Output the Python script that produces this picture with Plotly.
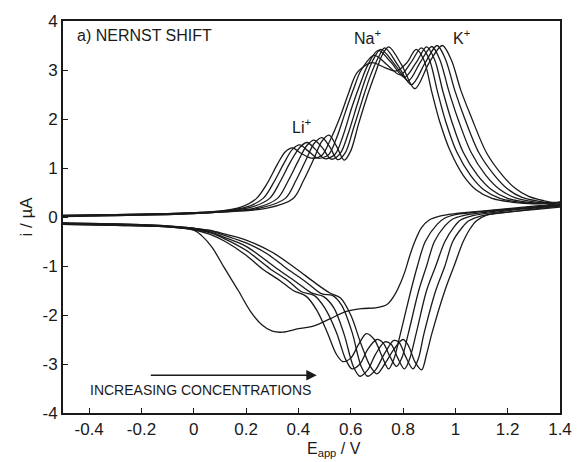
import plotly.graph_objects as go

# ---------------- data ----------------
# forward (anodic, upper) scans, potential in V and current in uA
fwd_v_c0 = [-0.5, -0.3, -0.1, 0.0, 0.1, 0.18, 0.24, 0.28, 0.32, 0.35, 0.377, 0.41, 0.45, 0.49, 0.52, 0.56, 0.59, 0.625, 0.68, 0.73, 0.775, 0.815, 0.85, 0.88, 0.91, 0.94, 0.98, 1.03, 1.08, 1.14, 1.22, 1.3, 1.4]
fwd_i_c0 = [0.04, 0.05, 0.07, 0.09, 0.12, 0.2, 0.38, 0.68, 1.08, 1.33, 1.41, 1.3, 1.2, 1.26, 1.55, 2.05, 2.5, 2.95, 3.15, 3.05, 2.98, 3.15, 3.42, 3.2, 2.55, 1.95, 1.35, 0.85, 0.55, 0.38, 0.3, 0.27, 0.3]
fwd_v_c1 = [-0.5, -0.3, -0.1, 0.0, 0.1, 0.2, 0.265, 0.305, 0.345, 0.377, 0.405, 0.437, 0.475, 0.515, 0.545, 0.58, 0.61, 0.64, 0.69, 0.74, 0.79, 0.83, 0.87, 0.9, 0.932, 0.963, 1.005, 1.058, 1.11, 1.17, 1.25, 1.32, 1.4]
fwd_i_c1 = [0.03, 0.05, 0.07, 0.09, 0.12, 0.2, 0.38, 0.7, 1.1, 1.38, 1.47, 1.35, 1.2, 1.27, 1.6, 2.15, 2.6, 3.0, 3.3, 3.1, 2.9, 3.15, 3.45, 3.22, 2.55, 1.95, 1.33, 0.85, 0.55, 0.38, 0.3, 0.28, 0.3]
fwd_v_c2 = [-0.5, -0.3, -0.1, 0.0, 0.1, 0.22, 0.29, 0.33, 0.37, 0.405, 0.433, 0.465, 0.5, 0.54, 0.57, 0.605, 0.635, 0.665, 0.705, 0.755, 0.805, 0.85, 0.89, 0.92, 0.953, 0.985, 1.03, 1.085, 1.14, 1.2, 1.28, 1.34, 1.4]
fwd_i_c2 = [0.03, 0.04, 0.06, 0.08, 0.11, 0.2, 0.38, 0.72, 1.13, 1.42, 1.52, 1.38, 1.19, 1.28, 1.65, 2.25, 2.7, 3.1, 3.4, 3.15, 2.85, 3.15, 3.47, 3.22, 2.55, 1.97, 1.32, 0.85, 0.55, 0.38, 0.3, 0.28, 0.3]
fwd_v_c3 = [-0.5, -0.3, -0.1, 0.0, 0.1, 0.24, 0.32, 0.36, 0.4, 0.432, 0.46, 0.492, 0.525, 0.56, 0.59, 0.625, 0.655, 0.685, 0.715, 0.77, 0.82, 0.865, 0.91, 0.94, 0.975, 1.01, 1.06, 1.115, 1.17, 1.23, 1.3, 1.35, 1.4]
fwd_i_c3 = [0.02, 0.04, 0.06, 0.08, 0.11, 0.19, 0.38, 0.73, 1.15, 1.46, 1.57, 1.41, 1.18, 1.3, 1.7, 2.3, 2.8, 3.2, 3.42, 3.1, 2.78, 3.15, 3.48, 3.22, 2.57, 2.0, 1.32, 0.86, 0.56, 0.39, 0.31, 0.29, 0.3]
fwd_v_c4 = [-0.5, -0.3, -0.1, 0.0, 0.1, 0.26, 0.35, 0.39, 0.43, 0.46, 0.49, 0.52, 0.55, 0.58, 0.61, 0.645, 0.675, 0.705, 0.73, 0.78, 0.832, 0.885, 0.93, 0.962, 0.998, 1.035, 1.09, 1.148, 1.2, 1.255, 1.32, 1.36, 1.4]
fwd_i_c4 = [0.02, 0.03, 0.05, 0.07, 0.1, 0.19, 0.38, 0.74, 1.18, 1.5, 1.62, 1.43, 1.17, 1.32, 1.8, 2.4, 2.88, 3.25, 3.45, 3.1, 2.7, 3.15, 3.5, 3.22, 2.58, 2.02, 1.31, 0.86, 0.57, 0.4, 0.32, 0.29, 0.3]
fwd_v_c5 = [-0.5, -0.3, -0.1, 0.0, 0.1, 0.28, 0.38, 0.42, 0.46, 0.49, 0.517, 0.545, 0.575, 0.6, 0.63, 0.665, 0.695, 0.72, 0.745, 0.795, 0.845, 0.9, 0.95, 0.985, 1.02, 1.06, 1.12, 1.18, 1.23, 1.28, 1.34, 1.37, 1.4]
fwd_i_c5 = [0.01, 0.03, 0.05, 0.07, 0.1, 0.18, 0.38, 0.75, 1.2, 1.55, 1.67, 1.45, 1.16, 1.35, 1.9, 2.5, 2.95, 3.3, 3.47, 3.1, 2.62, 3.15, 3.5, 3.2, 2.6, 2.05, 1.3, 0.85, 0.58, 0.42, 0.33, 0.3, 0.3]

# reverse (cathodic, lower) scans, from 1.4 V back to -0.5 V
rev_v_c0 = [1.4, 1.3, 1.2, 1.1, 1.0, 0.94, 0.9, 0.87, 0.845, 0.825, 0.808, 0.79, 0.77, 0.74, 0.7, 0.64, 0.58, 0.52, 0.46, 0.4, 0.34, 0.3, 0.26, 0.216, 0.17, 0.117, 0.07, 0.03, 0.0, -0.1, -0.3, -0.5]
rev_i_c0 = [0.27, 0.22, 0.17, 0.12, 0.07, 0.02, -0.06, -0.22, -0.5, -0.8, -1.1, -1.35, -1.57, -1.78, -1.85, -1.87, -1.93, -2.08, -2.22, -2.28, -2.35, -2.33, -2.2, -1.92, -1.5, -1.04, -0.62, -0.38, -0.27, -0.2, -0.17, -0.15]
rev_v_c1 = [1.4, 1.25, 1.1, 1.0, 0.96, 0.93, 0.885, 0.855, 0.83, 0.79, 0.765, 0.745, 0.72, 0.69, 0.66, 0.63, 0.6, 0.57, 0.545, 0.51, 0.47, 0.43, 0.38, 0.33, 0.26, 0.2, 0.12, 0.06, 0.0, -0.1, -0.3, -0.5]
rev_i_c1 = [0.25, 0.18, 0.11, 0.05, -0.02, -0.15, -0.5, -1.0, -1.5, -2.38, -2.9, -3.1, -2.85, -2.5, -2.38, -2.6, -2.88, -2.95, -2.8, -2.35, -1.9, -1.62, -1.5, -1.3, -1.05, -0.78, -0.5, -0.35, -0.26, -0.2, -0.17, -0.15]
rev_v_c2 = [1.4, 1.25, 1.12, 1.03, 0.99, 0.96, 0.92, 0.89, 0.86, 0.82, 0.795, 0.775, 0.75, 0.725, 0.7, 0.665, 0.635, 0.605, 0.58, 0.545, 0.5, 0.46, 0.41, 0.36, 0.29, 0.2, 0.12, 0.06, 0.0, -0.1, -0.3, -0.5]
rev_i_c2 = [0.24, 0.17, 0.1, 0.03, -0.04, -0.18, -0.5, -1.0, -1.5, -2.38, -2.88, -3.05, -2.85, -2.58, -2.5, -2.7, -3.0, -3.1, -2.9, -2.35, -1.85, -1.6, -1.52, -1.3, -1.05, -0.68, -0.45, -0.32, -0.25, -0.2, -0.16, -0.14]
rev_v_c3 = [1.4, 1.25, 1.14, 1.06, 1.02, 0.995, 0.96, 0.925, 0.89, 0.85, 0.825, 0.805, 0.78, 0.755, 0.73, 0.695, 0.665, 0.635, 0.61, 0.575, 0.535, 0.495, 0.45, 0.39, 0.317, 0.2, 0.12, 0.06, 0.0, -0.1, -0.3, -0.5]
rev_i_c3 = [0.23, 0.16, 0.09, 0.02, -0.06, -0.2, -0.5, -1.0, -1.5, -2.38, -2.9, -3.1, -2.88, -2.6, -2.55, -2.8, -3.12, -3.25, -3.05, -2.4, -1.85, -1.62, -1.55, -1.32, -1.05, -0.6, -0.42, -0.3, -0.24, -0.19, -0.15, -0.13]
rev_v_c4 = [1.4, 1.28, 1.17, 1.09, 1.05, 1.025, 0.99, 0.96, 0.925, 0.88, 0.858, 0.838, 0.81, 0.785, 0.765, 0.73, 0.695, 0.665, 0.64, 0.605, 0.565, 0.53, 0.49, 0.43, 0.355, 0.28, 0.2, 0.12, 0.06, 0.0, -0.1, -0.3, -0.5]
rev_i_c4 = [0.22, 0.15, 0.08, 0.01, -0.08, -0.22, -0.5, -1.0, -1.5, -2.38, -2.9, -3.1, -2.85, -2.56, -2.52, -2.78, -3.12, -3.25, -3.05, -2.35, -1.8, -1.6, -1.57, -1.33, -1.05, -0.75, -0.53, -0.38, -0.28, -0.23, -0.18, -0.14, -0.12]
rev_v_c5 = [1.4, 1.3, 1.2, 1.12, 1.08, 1.055, 1.03, 0.995, 0.96, 0.91, 0.89, 0.871, 0.845, 0.82, 0.8, 0.765, 0.73, 0.7, 0.675, 0.64, 0.6, 0.56, 0.52, 0.465, 0.39, 0.3, 0.2, 0.12, 0.06, 0.0, -0.1, -0.3, -0.5]
rev_i_c5 = [0.2, 0.15, 0.1, 0.04, -0.08, -0.25, -0.5, -1.0, -1.5, -2.38, -2.8, -3.12, -2.95, -2.62, -2.5, -2.7, -3.0, -3.2, -3.05, -2.6, -2.0, -1.65, -1.55, -1.35, -1.05, -0.72, -0.47, -0.35, -0.27, -0.23, -0.18, -0.14, -0.12]

x_tick_vals = [-0.4, -0.2, 0, 0.2, 0.4, 0.6, 0.8, 1, 1.2, 1.4]
x_tick_text = ["-0.4", "-0.2", "0", "0.2", "0.4", "0.6", "0.8", "1", "1.2", "1.4"]
y_tick_vals = [-4, -3, -2, -1, 0, 1, 2, 3, 4]
y_tick_text = ["-4", "-3", "-2", "-1", "0", "1", "2", "3", "4"]

ion_labels = ["Li<sup>+</sup>", "Na<sup>+</sup>", "K<sup>+</sup>"]
ion_label_v = [0.41, 0.665, 1.025]
ion_label_i = [1.85, 3.68, 3.68]

# ---------------- figure ----------------
FONT = "Liberation Sans, Arial, sans-serif"
INK = "#1a1a1a"

fig = go.Figure()
curves = [
    (fwd_v_c0, fwd_i_c0), (fwd_v_c1, fwd_i_c1), (fwd_v_c2, fwd_i_c2),
    (fwd_v_c3, fwd_i_c3), (fwd_v_c4, fwd_i_c4), (fwd_v_c5, fwd_i_c5),
    (rev_v_c0, rev_i_c0), (rev_v_c1, rev_i_c1), (rev_v_c2, rev_i_c2),
    (rev_v_c3, rev_i_c3), (rev_v_c4, rev_i_c4), (rev_v_c5, rev_i_c5),
]
for xv, yv in curves:
    fig.add_trace(go.Scatter(
        x=xv, y=yv, mode="lines",
        line=dict(color=INK, width=1.3, shape="spline", smoothing=0.9),
        showlegend=False, hoverinfo="skip",
    ))

for txt, xv, yv in zip(ion_labels, ion_label_v, ion_label_i):
    fig.add_annotation(x=xv, y=yv, xref="x", yref="y", text=txt, showarrow=False,
                       font=dict(family=FONT, size=16, color=INK))

fig.add_annotation(x=-0.455, y=3.7, xref="x", yref="y", text="a) NERNST SHIFT",
                   showarrow=False, xanchor="left",
                   font=dict(family=FONT, size=16, color=INK))

fig.add_annotation(x=0.025, y=-3.53, xref="x", yref="y", text="INCREASING CONCENTRATIONS",
                   showarrow=False, font=dict(family=FONT, size=14, color=INK))

fig.add_annotation(x=0.47, y=-3.23, ax=-0.17, ay=-3.23, xref="x", yref="y",
                   axref="x", ayref="y", text="", showarrow=True,
                   arrowhead=2, arrowsize=1.3, arrowwidth=1.6, arrowcolor=INK)

# x-axis title placed as in the reference (slightly right of centre)
fig.add_annotation(x=0.545, y=-0.094, xref="paper", yref="paper",
                   text="E<sub>app</sub> / V", showarrow=False, yanchor="middle",
                   font=dict(family=FONT, size=16, color=INK))

fig.update_layout(
    width=584, height=462,
    margin=dict(l=63, r=17, t=16, b=49),
    paper_bgcolor="white", plot_bgcolor="white",
    font=dict(family=FONT, size=17, color=INK),
    xaxis=dict(
        range=[-0.5, 1.4], tickmode="array", tickvals=x_tick_vals, ticktext=x_tick_text,
        ticks="inside", ticklen=5, tickwidth=1.2, tickcolor=INK,
        showline=True, linecolor=INK, linewidth=1.8, mirror=True,
        showgrid=False, zeroline=False,
        tickfont=dict(family=FONT, size=17),
    ),
    yaxis=dict(
        range=[-4, 4], tickmode="array", tickvals=y_tick_vals, ticktext=y_tick_text,
        ticks="inside", ticklen=5, tickwidth=1.2, tickcolor=INK,
        showline=True, linecolor=INK, linewidth=1.8, mirror=True,
        showgrid=False, zeroline=False,
        title=dict(text="i / µA", font=dict(family=FONT, size=17), standoff=6),
        tickfont=dict(family=FONT, size=17),
    ),
)

fig.write_html("out.html")
